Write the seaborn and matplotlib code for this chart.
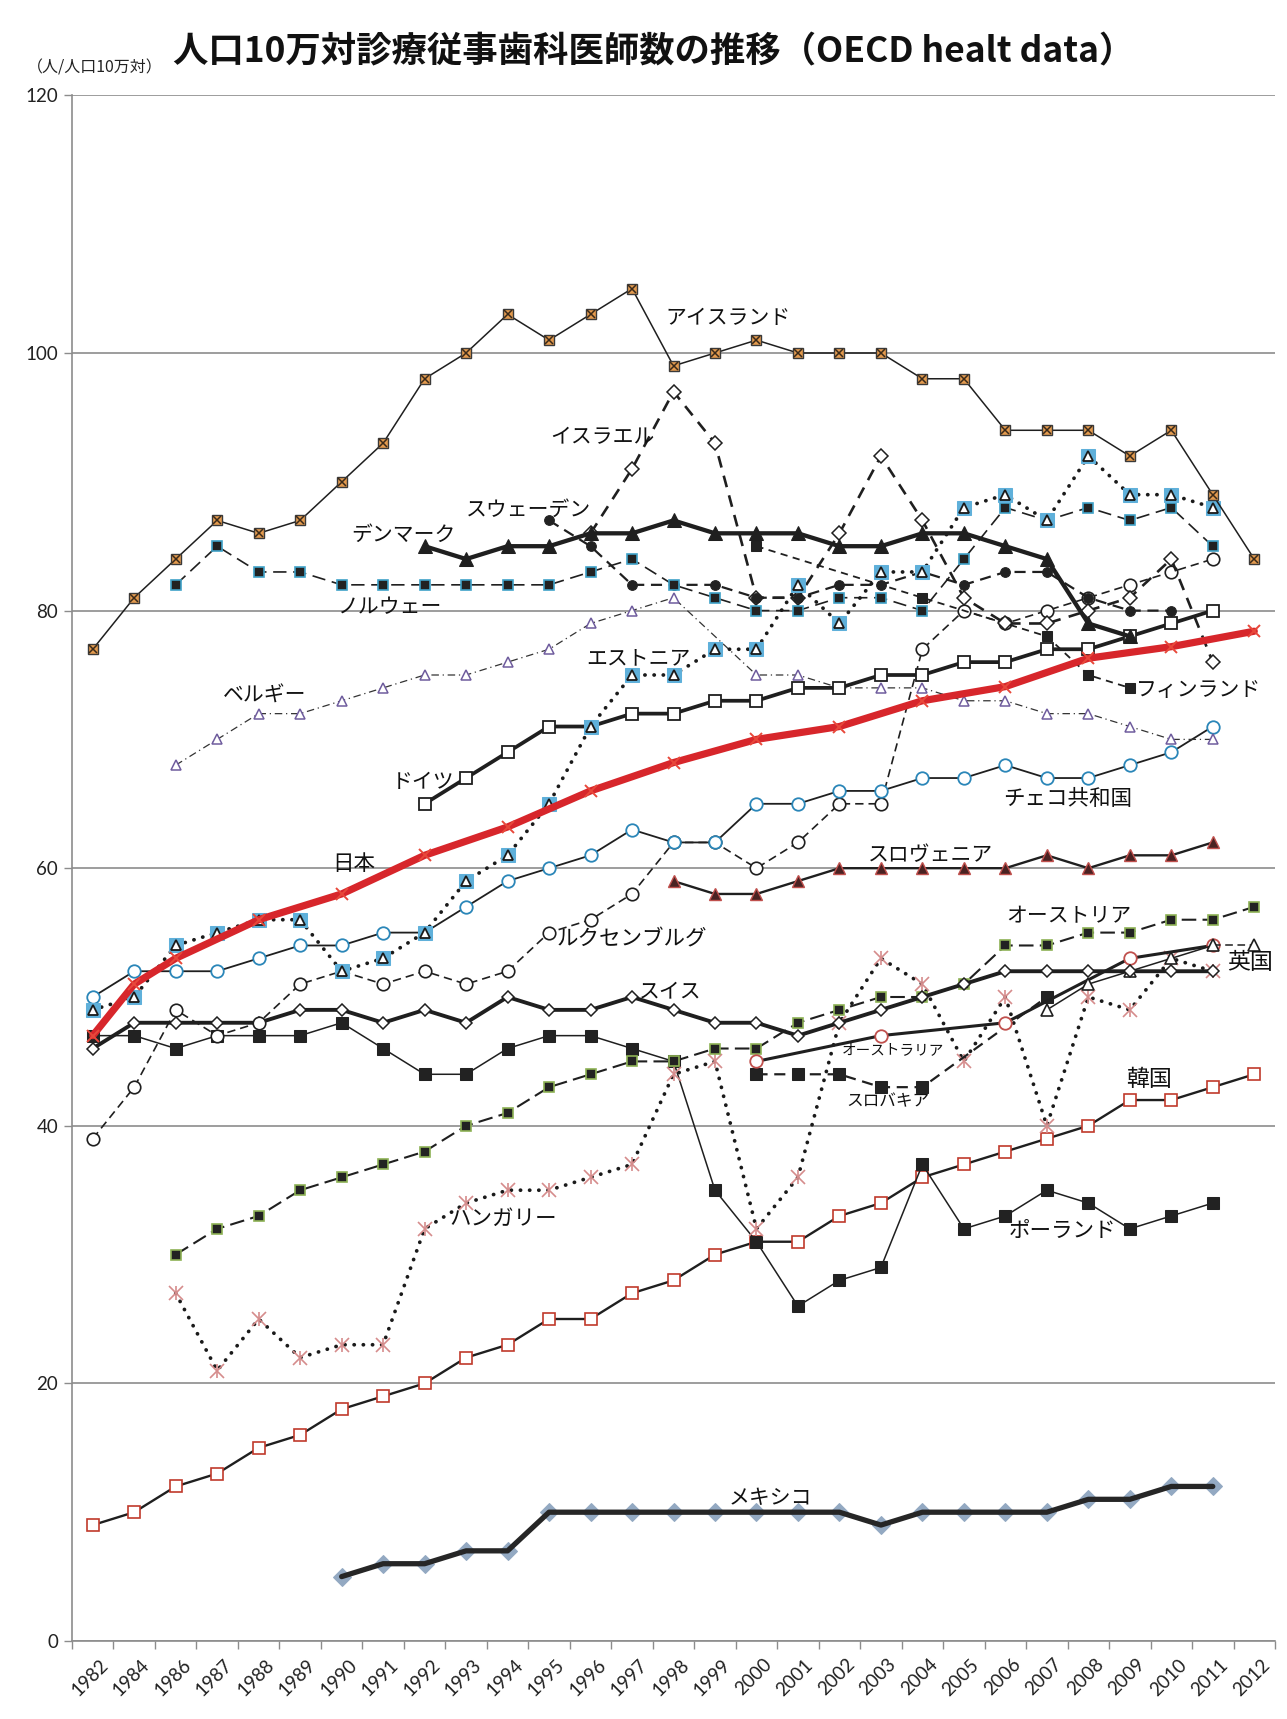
import numpy as np
import pandas as pd
import matplotlib
matplotlib.use("Agg")
import matplotlib.pyplot as plt
import seaborn as sns

sns.set_theme(style="white")
plt.rcParams['font.family'] = ['Noto Sans CJK JP', 'DejaVu Sans']

N = None
years = ["1982", "1984", "1986", "1987", "1988", "1989", "1990", "1991", "1992",
         "1993", "1994", "1995", "1996", "1997", "1998", "1999", "2000", "2001",
         "2002", "2003", "2004", "2005", "2006", "2007", "2008", "2009", "2010",
         "2011", "2012"]

iceland = [77, 81, 84, 87, 86, 87, 90, 93, 98, 100, 103, 101, 103, 105, 99, 100, 101,
           100, 100, 100, 98, 98, 94, 94, 94, 92, 94, 89, 84]
norway = [N, N, 82, 85, 83, 83, 82, 82, 82, 82, 82, 82, 83, 84, 82, 81, 80, 80, 81, 81,
          80, 84, 88, 87, 88, 87, 88, 85, N]
estonia = [49, 50, 54, 55, 56, 56, 52, 53, 55, 59, 61, 65, 71, 75, 75, 77, 77, 82, 79,
           83, 83, 88, 89, 87, 92, 89, 89, 88, N]
denmark = [N, N, N, N, N, N, N, N, 85, 84, 85, 85, 86, 86, 87, 86, 86, 86, 85, 85, 86,
           86, 85, 84, 79, 78, N, N, N]
sweden = [N, N, N, N, N, N, N, N, N, N, N, 87, 85, 82, 82, 82, 81, 81, 82, 82, 83, 82,
          83, 83, 81, 80, 80, N, N]
israel = [N, N, N, N, N, N, N, N, N, N, N, N, 86, 91, 97, 93, 81, 81, 86, 92, 87, 81, 79,
          79, 80, 81, 84, 76, N]
finland = [N, N, N, N, N, N, N, N, N, N, N, N, N, N, N, N, 85, N, N, N, 81, N, N, 78, 75,
           74, N, N, N]
germany = [N, N, N, N, N, N, N, N, 65, 67, 69, 71, 71, 72, 72, 73, 73, 74, 74, 75, 75,
           76, 76, 77, 77, 78, 79, 80, N]
japan = [47, 51, 53, N, 56, N, 58, N, 61, N, 63.2, N, 66, N, 68.2, N, 70, N, 71, N, 73,
         N, 74.1, N, 76.3, N, 77.2, N, 78.4]
czech = [50, 52, 52, 52, 53, 54, 54, 55, 55, 57, 59, 60, 61, 63, 62, 62, 65, 65, 66, 66,
         67, 67, 68, 67, 67, 68, 69, 71, N]
luxembourg = [39, 43, 49, 47, 48, 51, 52, 51, 52, 51, 52, 55, 56, 58, 62, 62, 60, 62, 65,
              65, 77, 80, 79, 80, 81, 82, 83, 84, N]
belgium = [N, N, 68, 70, 72, 72, 73, 74, 75, 75, 76, 77, 79, 80, 81, N, 75, 75, 74, 74,
           74, 73, 73, 72, 72, 71, 70, 70, N]
slovenia = [N, N, N, N, N, N, N, N, N, N, N, N, N, N, 59, 58, 58, 59, 60, 60, 60, 60, 60,
            61, 60, 61, 61, 62, N]
switzerland = [46, 48, 48, 48, 48, 49, 49, 48, 49, 48, 50, 49, 49, 50, 49, 48, 48, 47,
               48, 49, 50, 51, 52, 52, 52, 52, 52, 52, N]
austria = [N, N, 30, 32, 33, 35, 36, 37, 38, 40, 41, 43, 44, 45, 45, 46, 46, 48, 49, 50,
           50, 51, 54, 54, 55, 55, 56, 56, 57]
uk = [N, N, N, N, N, N, N, N, N, N, N, N, N, N, N, N, N, N, N, N, N, N, N, 49, 51, 52,
      53, 54, 54]
australia = [N, N, N, N, N, N, N, N, N, N, N, N, N, N, N, N, 45, N, N, 47, N, N, 48, N, N,
             53, N, 54, N]
slovakia = [N, N, N, N, N, N, N, N, N, N, N, N, N, N, N, N, 44, 44, 44, 43, 43, N, N, 50,
            N, N, N, N, N]
hungary = [N, N, 27, 21, 25, 22, 23, 23, 32, 34, 35, 35, 36, 37, 44, 45, 32, 36, 48, 53,
           51, 45, 50, 40, 50, 49, 53, 52, N]
korea = [9, 10, 12, 13, 15, 16, 18, 19, 20, 22, 23, 25, 25, 27, 28, 30, 31, 31, 33, 34,
         36, 37, 38, 39, 40, 42, 42, 43, 44]
poland = [47, 47, 46, 47, 47, 47, 48, 46, 44, 44, 46, 47, 47, 46, 45, 35, 31, 26, 28, 29,
          37, 32, 33, 35, 34, 32, 33, 34, N]
mexico = [N, N, N, N, N, N, 5, 6, 6, 7, 7, 10, 10, 10, 10, 10, 10, 10, 10, 9, 10, 10, 10,
          10, 11, 11, 12, 12, N]

W, H = 1287, 1719
fig = plt.figure(figsize=(W / 100, H / 100), dpi=100)
ax = fig.add_axes([72 / W, 1 - 1641 / H, (1275 - 72) / W, (1641 - 95.4) / H])

xpos = np.arange(len(years))


def frame(vals, lo=None, hi=None):
    y = np.array([np.nan if v is None else v for v in vals], dtype=float)
    df = pd.DataFrame({"x": xpos, "y": y})
    if lo is not None:
        df = df[(df.x >= lo) & (df.x <= hi)]
    return df.dropna()


def line(vals, lo=None, hi=None, **kw):
    sns.lineplot(data=frame(vals, lo, hi), x="x", y="y", ax=ax, estimator=None,
                 sort=True, legend=False, **kw)


def marks(vals, **kw):
    kw.setdefault("linestyle", "None")
    sns.lineplot(data=frame(vals), x="x", y="y", ax=ax, estimator=None,
                 sort=True, legend=False, **kw)


dot = dict(dash_capstyle="round")

# Mexico: markers sit beneath the heavy line
marks(mexico, marker="D", markersize=9, markerfacecolor="#93A9C2",
      markeredgecolor="#93A9C2", zorder=3)
line(mexico, color="#262626", lw=3.8, zorder=4)

# Korea
line(korea, color="#1f1f1f", lw=1.7, marker="s", markersize=8,
     markerfacecolor="white", markeredgecolor="#C0392B", markeredgewidth=1.2, zorder=5)

# Poland
line(poland, color="#1f1f1f", lw=1.1, marker="s", markersize=8,
     markerfacecolor="#222222", markeredgecolor="#222222", zorder=5)

# Hungary: dotted line with pink asterisks
line(hungary, color="#1a1a1a", lw=2.7, linestyle=(0, (0.05, 2.4)), zorder=5, **dot)
marks(hungary, marker="x", markersize=9.5, markeredgecolor="#D58C8C",
      markeredgewidth=1.2, zorder=6)
marks(hungary, marker="|", markersize=10.5, markeredgecolor="#D58C8C",
      markeredgewidth=1.2, zorder=6)

# Austria
line(austria, color="#1f1f1f", lw=1.5, linestyle=(0, (7, 3)), marker="s",
     markersize=7.5, markerfacecolor="#222222", markeredgecolor="#8DB255",
     markeredgewidth=1.2, zorder=6)

# Slovakia
line(slovakia, color="#1f1f1f", lw=1.6, linestyle=(0, (5, 3)), marker="s",
     markersize=8.5, markerfacecolor="#222222", markeredgecolor="#222222", zorder=6)

# Australia
line(australia, color="#1f1f1f", lw=2.2, marker="o", markersize=9,
     markerfacecolor="white", markeredgecolor="#C0504D", markeredgewidth=1.3, zorder=6)

# United Kingdom: solid through 2011, dashed to 2012
line(uk, lo=23, hi=27, color="#1f1f1f", lw=1.1, zorder=6)
line(uk, lo=27, hi=28, color="#1f1f1f", lw=1.1, linestyle=(0, (5, 3)), zorder=6)
marks(uk, marker="^", markersize=9, markerfacecolor="white",
      markeredgecolor="#1f1f1f", markeredgewidth=1.2, zorder=7)

# Switzerland
line(switzerland, color="#1f1f1f", lw=2.8, marker="D", markersize=6.5,
     markerfacecolor="white", markeredgecolor="#1f1f1f", markeredgewidth=1.1, zorder=7)

# Slovenia
line(slovenia, color="#1f1f1f", lw=1.7, marker="^", markersize=8,
     markerfacecolor="#4A2222", markeredgecolor="#C0504D", markeredgewidth=1.0, zorder=7)

# Luxembourg
line(luxembourg, color="#1f1f1f", lw=1.2, linestyle=(0, (5, 3)), marker="o",
     markersize=9, markerfacecolor="white", markeredgecolor="#1f1f1f",
     markeredgewidth=1.2, zorder=7)

# Czech Republic
line(czech, color="#1f1f1f", lw=1.3, marker="o", markersize=9,
     markerfacecolor="white", markeredgecolor="#2A86B8", markeredgewidth=1.3, zorder=7)

# Belgium
line(belgium, color="#333333", lw=0.9, linestyle=(0, (6, 3, 1, 3)), marker="^",
     markersize=7.5, markerfacecolor="white", markeredgecolor="#6F5C9E",
     markeredgewidth=1.1, zorder=7)

# Germany
line(germany, color="#1f1f1f", lw=2.7, marker="s", markersize=8.5,
     markerfacecolor="white", markeredgecolor="#1f1f1f", markeredgewidth=1.3, zorder=8)

# Finland
line(finland, color="#1f1f1f", lw=1.3, linestyle=(0, (4, 3)), marker="s",
     markersize=7.5, markerfacecolor="#222222", markeredgecolor="#222222", zorder=8)

# Israel
line(israel, color="#1f1f1f", lw=1.9, linestyle=(0, (4.5, 3.2)), marker="D",
     markersize=7.5, markerfacecolor="white", markeredgecolor="#1f1f1f",
     markeredgewidth=1.1, zorder=8)

# Sweden
line(sweden, color="#1f1f1f", lw=1.6, linestyle=(0, (5, 3)), marker="o",
     markersize=7, markerfacecolor="#222222", markeredgecolor="#222222", zorder=8)

# Norway
line(norway, color="#1f1f1f", lw=1.2, linestyle=(0, (8, 4)), marker="s",
     markersize=7.5, markerfacecolor="#222222", markeredgecolor="#3FA2C8",
     markeredgewidth=1.2, zorder=8)

# Estonia: dotted line, blue tile behind a white triangle
line(estonia, color="#1a1a1a", lw=2.7, linestyle=(0, (0.05, 2.4)), zorder=8, **dot)
marks(estonia, marker="s", markersize=10, markerfacecolor="#5FB0DA",
      markeredgecolor="#5FB0DA", zorder=9)
marks(estonia, marker="^", markersize=7.5, markerfacecolor="white",
      markeredgecolor="#1a1a1a", markeredgewidth=1.3, zorder=9)

# Denmark
line(denmark, color="#1f1f1f", lw=3.1, marker="^", markersize=9.5,
     markerfacecolor="#1f1f1f", markeredgecolor="#1f1f1f", zorder=9)

# Iceland
line(iceland, color="#1f1f1f", lw=1.1, marker="s", markersize=7.5,
     markerfacecolor="#E39A4E", markeredgecolor="#3a3a3a", markeredgewidth=1.0, zorder=9)
marks(iceland, marker="x", markersize=5.5, markeredgecolor="#3a2a1a",
      markeredgewidth=1.1, zorder=10)

# Japan
line(japan, color="#D7262B", lw=5.2, zorder=11)
marks(japan, marker="x", markersize=9, markeredgecolor="#E8483A",
      markeredgewidth=1.4, zorder=11)

# country labels
lab_kw = dict(ha="left", va="center", color="#111111", zorder=20)
labels = [
    ("アイスランド", 13.80, 102.7, 15),
    ("イスラエル", 11.03, 93.5, 15),
    ("スウェーデン", 8.99, 87.8, 15),
    ("デンマーク", 6.22, 85.9, 15),
    ("ノルウェー", 5.90, 80.3, 15),
    ("ベルギー", 3.13, 73.4, 15),
    ("エストニア", 11.90, 76.3, 15),
    ("フィンランド", 25.16, 73.8, 15),
    ("ドイツ", 7.20, 66.7, 15),
    ("チェコ共和国", 21.94, 65.4, 15.5),
    ("日本", 5.77, 60.3, 15.5),
    ("スロヴェニア", 18.69, 61.0, 15),
    ("オーストリア", 22.02, 56.3, 15),
    ("ルクセンブルグ", 11.19, 54.5, 15.5),
    ("スイス", 13.17, 50.4, 15),
    ("英国", 27.35, 52.7, 16.5),
    ("オーストラリア", 18.05, 45.9, 10.5),
    ("スロバキア", 18.16, 41.9, 12),
    ("韓国", 24.90, 43.6, 16.5),
    ("ハンガリー", 8.60, 32.8, 15.5),
    ("ポーランド", 22.07, 31.8, 15.5),
    ("メキシコ", 15.33, 11.1, 15),
]
for txt, lx, ly, fs in labels:
    ax.text(lx, ly, txt, fontsize=fs, **lab_kw)

# axes
ax.set_xlim(-0.5, len(years) - 0.5)
ax.set_ylim(0, 120)
ax.set_xlabel("")
ax.set_ylabel("")
ax.set_yticks(np.arange(0, 121, 20))
ax.set_yticklabels([str(v) for v in range(0, 121, 20)],
                   fontsize=13.5, family=["Lato", "DejaVu Sans"], color="#222222")
ax.yaxis.grid(True, color="#8c8c8c", lw=1.2)
ax.xaxis.grid(False)
ax.set_axisbelow(True)
ax.set_xticks(np.arange(-0.5, len(years), 1.0))
ax.set_xticklabels([])
ax.set_xticks(xpos + 0.3, minor=True)
ax.set_xticklabels(years, minor=True, rotation=45, ha="right", va="center",
                   rotation_mode="anchor", fontsize=13.5,
                   family=["Lato", "DejaVu Sans"], color="#222222")
ax.tick_params(axis="x", which="major", length=6, width=1, color="#8c8c8c",
               direction="out", bottom=True)
ax.tick_params(axis="x", which="minor", length=0, pad=15, bottom=True)
ax.tick_params(axis="y", length=6, width=1, color="#8c8c8c", direction="out",
               left=True, pad=4)
for side in ("top", "right"):
    ax.spines[side].set_visible(False)
for side in ("left", "bottom"):
    ax.spines[side].set_color("#8c8c8c")
    ax.spines[side].set_linewidth(1.2)

fig.text(0.508, 1 - 52 / H, "人口10万対診療従事歯科医師数の推移（OECD healt data）",
         ha="center", va="center", fontsize=25.5, fontweight="bold", color="#111111")
fig.text(27 / W, 1 - 68 / H, "（人/人口10万対）", ha="left", va="center",
         fontsize=11.5, color="#222222")

fig.savefig("out.png", dpi=100, facecolor="white")
